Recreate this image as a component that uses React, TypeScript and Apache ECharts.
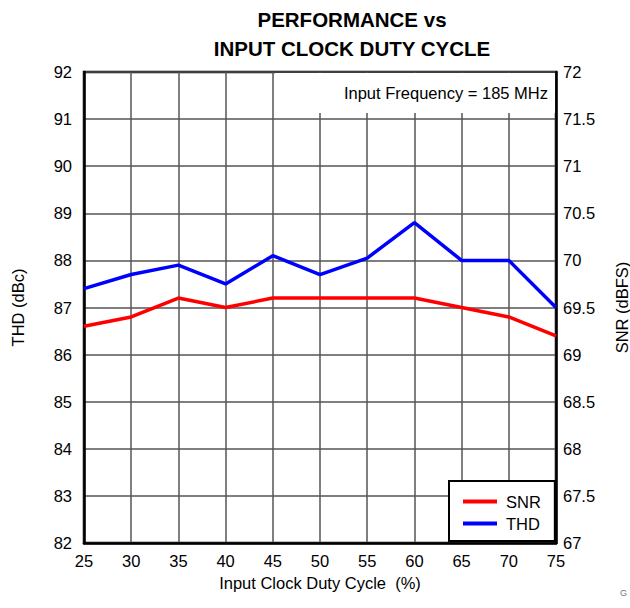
import React, { useEffect, useRef } from "react";
import * as echarts from "echarts";

const dutyCycle = [25, 30, 35, 40, 45, 50, 55, 60, 65, 70, 75];
const thd = [87.4, 87.7, 87.9, 87.5, 88.1, 87.7, 88.05, 88.8, 88.0, 88.0, 87.0];
const snr = [69.3, 69.4, 69.6, 69.5, 69.6, 69.6, 69.6, 69.6, 69.5, 69.4, 69.2];

const FONT = "Liberation Sans, Arial, sans-serif";

export default function App() {
  const ref = useRef<HTMLDivElement>(null);
  useEffect(() => {
    if (!ref.current) return;
    const chart = echarts.init(ref.current, null, { renderer: "svg" });
    chart.setOption({
      animation: false,
      textStyle: { fontFamily: FONT },
      title: {
        text: "PERFORMANCE vs\nINPUT CLOCK DUTY CYCLE",
        left: 347,
        top: 0,
        textAlign: "center",
        textStyle: { fontFamily: FONT, fontSize: 20.5, fontWeight: "bold", color: "#000", lineHeight: 29 },
      },
      grid: {
        left: 84, right: 74, top: 72, bottom: 65,
        outerBoundsMode: "none",
        containLabel: false,
        show: true, borderColor: "#000", borderWidth: 2.5, backgroundColor: "#fff",
      },
      legend: {
        orient: "vertical",
        left: 449,
        top: 481,
        padding: [12, 14, 9, 14],
        itemGap: 5,
        itemWidth: 34,
        itemHeight: 4,
        icon: "rect",
        backgroundColor: "#fff",
        borderColor: "#000",
        borderWidth: 2,
        textStyle: { fontFamily: FONT, fontSize: 16.5, color: "#000", padding: [0, 0, 0, 4] },
        data: ["SNR", "THD"],
        z: 10,
      },
      xAxis: {
        type: "value",
        min: 25, max: 75, interval: 5,
        name: "Input Clock Duty Cycle  (%)",
        nameLocation: "middle",
        nameGap: 31,
        nameTextStyle: { fontFamily: FONT, fontSize: 16.5, color: "#000" },
        axisLine: { show: true, lineStyle: { color: "#000", width: 2.5 } },
        axisTick: { show: false },
        axisLabel: { fontFamily: FONT, fontSize: 16.5, color: "#000", margin: 9 },
        splitLine: { show: true, lineStyle: { color: "#555", width: 1.5 } },
      },
      yAxis: [
        {
          type: "value",
          min: 82, max: 92, interval: 1,
          name: "THD (dBc)",
          nameLocation: "middle",
          nameGap: 58,
          nameRotate: 90,
          nameTextStyle: { fontFamily: FONT, fontSize: 16.5, color: "#000" },
          axisLine: { show: true, lineStyle: { color: "#000", width: 2.5 } },
          axisTick: { show: false },
          axisLabel: { fontFamily: FONT, fontSize: 16.5, color: "#000", margin: 12 },
          splitLine: { show: true, lineStyle: { color: "#555", width: 1.5 } },
        },
        {
          type: "value",
          min: 67, max: 72, interval: 0.5,
          name: "SNR (dBFS)",
          nameLocation: "middle",
          nameGap: 57,
          nameRotate: 90,
          nameTextStyle: { fontFamily: FONT, fontSize: 16.5, color: "#000" },
          axisLine: { show: true, lineStyle: { color: "#000", width: 2.5 } },
          axisTick: { show: false },
          axisLabel: { fontFamily: FONT, fontSize: 16.5, color: "#000", margin: 7 },
          splitLine: { show: false },
        },
      ],
      graphic: [
        {
          type: "rect",
          shape: { x: 275, y: 73, width: 280, height: 40 },
          style: { fill: "#fff" },
          z: 5,
        },
        {
          type: "text",
          x: 548, y: 93,
          style: {
            text: "Input Frequency = 185 MHz",
            fontFamily: FONT, fontSize: 16.5, fill: "#000",
            textAlign: "right", textVerticalAlign: "middle",
          },
          z: 6,
        },
        {
          type: "text",
          x: 620, y: 593,
          style: { text: "G", fontFamily: FONT, fontSize: 9, fill: "#777", textVerticalAlign: "middle" },
          z: 6,
        },
      ],
      series: [
        {
          name: "SNR",
          type: "line",
          yAxisIndex: 1,
          data: dutyCycle.map((x, i) => [x, snr[i]]),
          showSymbol: false,
          symbol: "none",
          lineStyle: { color: "#ff0000", width: 3.5 },
          itemStyle: { color: "#ff0000" },
          z: 3,
        },
        {
          name: "THD",
          type: "line",
          yAxisIndex: 0,
          data: dutyCycle.map((x, i) => [x, thd[i]]),
          showSymbol: false,
          symbol: "none",
          lineStyle: { color: "#0000ff", width: 3.5 },
          itemStyle: { color: "#0000ff" },
          z: 3,
        },
      ],
    });
    return () => chart.dispose();
  }, []);
  return <div ref={ref} style={{ width: 630, height: 608, position: "absolute", left: 0, top: 0 }} />;
}
